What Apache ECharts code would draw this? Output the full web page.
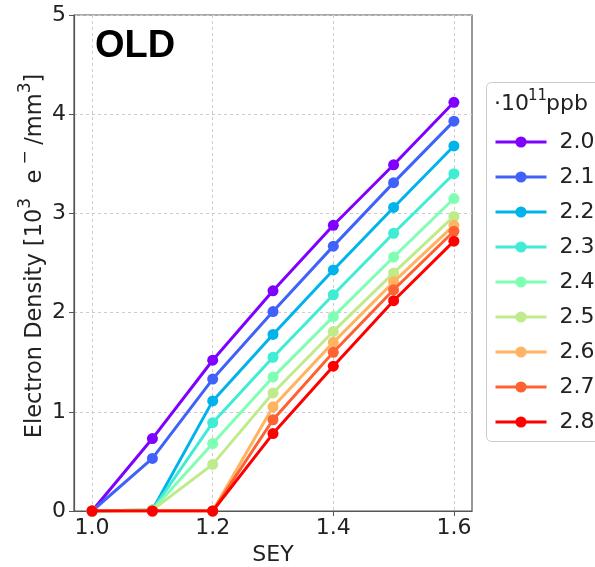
<!DOCTYPE html>
<html><head><meta charset="utf-8">
<script src="https://cdn.jsdelivr.net/npm/echarts@6/dist/echarts.min.js"></script>
<style>html,body{margin:0;padding:0;background:#fff}#c{width:595px;height:567px}</style>
</head><body><div id="c"></div>
<script>
const sey = [1.0, 1.1, 1.2, 1.3, 1.4, 1.5, 1.6];
const names = ['2.0', '2.1', '2.2', '2.3', '2.4', '2.5', '2.6', '2.7', '2.8'];
const colors = ['#8000ff', '#4062fa', '#00b4eb', '#40ecd4', '#80ffb4', '#c0eb8d', '#ffb462', '#ff6232', '#ff0000'];
const d20 = [0, 0.73, 1.52, 2.22, 2.88, 3.49, 4.12];
const d21 = [0, 0.53, 1.33, 2.01, 2.67, 3.31, 3.93];
const d22 = [0, 0.01, 1.11, 1.78, 2.43, 3.06, 3.68];
const d23 = [0, 0.01, 0.89, 1.55, 2.18, 2.80, 3.40];
const d24 = [0, 0.01, 0.68, 1.35, 1.96, 2.56, 3.15];
const d25 = [0, 0.01, 0.47, 1.19, 1.81, 2.40, 2.97];
const d26 = [0, 0, 0, 1.05, 1.70, 2.31, 2.88];
const d27 = [0, 0, 0, 0.92, 1.60, 2.23, 2.82];
const d28 = [0, 0, 0, 0.78, 1.46, 2.12, 2.72];
const allData = [d20, d21, d22, d23, d24, d25, d26, d27, d28];
const xTicks = [1.0, 1.2, 1.4, 1.6];

const chart = echarts.init(document.getElementById('c'));
const font = 'DejaVu Sans';
chart.setOption({
  animation: false,
  backgroundColor: '#fff',
  grid: {left: 74, top: 15, right: 123, bottom: 56, show: true, borderColor: '#555', borderWidth: 1.2,
    outerBoundsMode: 'none', containLabel: false},
  xAxis: {
    type: 'value', min: 0.97, max: 1.63,
    name: 'SEY', nameLocation: 'middle', nameGap: 30,
    nameTextStyle: {fontFamily: font, fontSize: 22, color: '#222'},
    axisLine: {lineStyle: {color: '#555', width: 1.2}},
    axisTick: {show: true, length: 5, customValues: xTicks, lineStyle: {color: '#555'}},
    axisLabel: {customValues: xTicks, fontFamily: font, fontSize: 22, color: '#222', margin: 6,
      formatter: v => v.toFixed(1)},
    splitLine: {show: true, lineStyle: {color: '#ccc', type: [3, 3], width: 1}}
  },
  yAxis: {
    type: 'value', min: 0, max: 5, interval: 1,
    axisLine: {show: true, lineStyle: {color: '#555', width: 1.2}},
    axisTick: {show: true, length: 5, lineStyle: {color: '#555'}},
    axisLabel: {fontFamily: font, fontSize: 22, color: '#222', margin: 8},
    splitLine: {show: true, lineStyle: {color: '#ccc', type: [3, 3], width: 1}}
  },
  legend: {
    orient: 'vertical', left: 494, top: 131, padding: 0,
    itemWidth: 51, itemHeight: 14, itemGap: 13,
    data: names,
    lineStyle: {width: 3},
    textStyle: {fontFamily: font, fontSize: 22, color: '#222', padding: [0, 0, 0, 8]}
  },
  graphic: [
    {type: 'rect', left: 486, top: 82, z: 0,
      shape: {width: 140, height: 359, r: 5},
      style: {fill: '#fff', stroke: '#ccc', lineWidth: 1}},
    {type: 'text', left: 494, top: 93, z: 10,
      style: {text: '·10', font: '22px "DejaVu Sans"', fill: '#222'}},
    {type: 'text', left: 528, top: 89, z: 10,
      style: {text: '11', font: '15px "DejaVu Sans"', fill: '#222'}},
    {type: 'text', left: 546, top: 93, z: 10,
      style: {text: 'ppb', font: '22px "DejaVu Sans"', fill: '#222'}},
    {type: 'text', left: 95, top: 28, z: 10,
      style: {text: 'OLD', font: 'bold 38px "Liberation Sans"', fill: '#000'}},
    {type: 'text', x: 32, y: 256, rotation: Math.PI / 2, z: 10,
      style: {
        text: '{n|Electron Density [10}{s|3}{n|  e}{s| − }{n|/mm}{s|3}{n|]}',
        align: 'center', verticalAlign: 'middle', fill: '#222',
        rich: {
          n: {fontFamily: font, fontSize: 22.5, lineHeight: 30, verticalAlign: 'bottom', fill: '#222'},
          s: {fontFamily: font, fontSize: 17, lineHeight: 30, verticalAlign: 'top', fill: '#222'}
        }
      }}
  ],
  series: names.map((n, i) => ({
    name: n, type: 'line',
    data: sey.map((x, j) => [x, allData[i][j]]),
    symbol: 'circle', symbolSize: 11,
    lineStyle: {width: 3, color: colors[i]},
    itemStyle: {color: colors[i]},
    z: 2 + i
  }))
});
</script></body></html>
